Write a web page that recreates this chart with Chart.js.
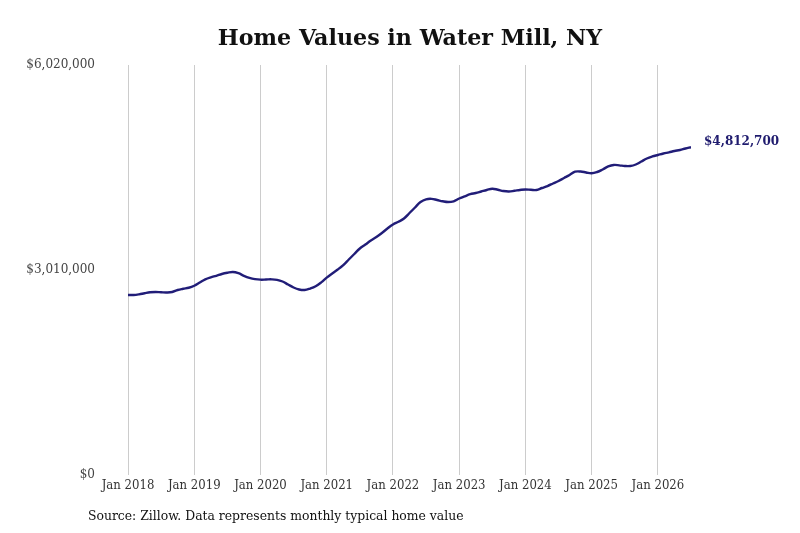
<!DOCTYPE html>
<html>
<head>
<meta charset="utf-8">
<script src="https://cdn.jsdelivr.net/npm/chart.js@4.4.1/dist/chart.umd.min.js"></script>
<style>
  html, body { margin: 0; padding: 0; background: #ffffff; }
  #wrap { width: 800px; height: 533px; position: relative; }
</style>
</head>
<body>
<div id="wrap"><canvas id="c"></canvas></div>
<script>
// ---- data ----
const chartTitle = "Home Values in Water Mill, NY";
const sourceNote = "Source: Zillow. Data represents monthly typical home value";
const startYear = 2018;
// monthly typical home value, Jan 2018 .. Jul 2026
const homeValues = [
  2643000, 2643000, 2653000, 2669000, 2683000, 2687000, 2683000, 2680000, 2687000, 2716000, 2734000, 2749000,
  2779000, 2826000, 2873000, 2903000, 2925000, 2951000, 2969000, 2981000, 2963000, 2925000, 2895000, 2876000,
  2868000, 2870000, 2873000, 2866000, 2841000, 2797000, 2753000, 2724000, 2716000, 2738000, 2772000, 2828000,
  2898000, 2959000, 3017000, 3083000, 3164000, 3245000, 3326000, 3384000, 3443000, 3494000, 3553000, 3619000,
  3678000, 3719000, 3766000, 3847000, 3928000, 4008000, 4048000, 4055000, 4038000, 4019000, 4008000, 4019000,
  4060000, 4092000, 4123000, 4141000, 4163000, 4185000, 4204000, 4189000, 4170000, 4163000, 4173000, 4185000,
  4193000, 4188000, 4185000, 4214000, 4243000, 4280000, 4317000, 4361000, 4405000, 4453000, 4456000, 4442000,
  4430000, 4449000, 4486000, 4530000, 4552000, 4547000, 4537000, 4537000, 4559000, 4603000, 4647000, 4677000,
  4699000, 4721000, 4738000, 4757000, 4772000, 4794000, 4812700
];
const xTickYears = [2018, 2019, 2020, 2021, 2022, 2023, 2024, 2025, 2026];
const yTickValues = [0, 3010000, 6020000];
const endLabel = "$4,812,700";

// ---- build ----
const points = homeValues.map((v, i) => ({ x: i, y: v }));
const fmt = v => "$" + v.toLocaleString("en-US");

const textPlugin = {
  id: "texts",
  afterDraw(chart) {
    const ctx = chart.ctx;
    ctx.save();
    ctx.fillStyle = "#111111";
    ctx.font = "bold 22.2px 'DejaVu Serif'";
    ctx.textAlign = "center";
    ctx.textBaseline = "middle";
    ctx.fillText(chartTitle, 410, 39);

    ctx.font = "12.4px 'DejaVu Serif'";
    ctx.textAlign = "left";
    ctx.fillStyle = "#111111";
    ctx.fillText(sourceNote, 88, 517);

    const meta = chart.getDatasetMeta(0);
    const last = meta.data[meta.data.length - 1];
    ctx.font = "bold 12px 'DejaVu Serif'";
    ctx.fillStyle = "#1f1b6e";
    ctx.textAlign = "left";
    ctx.fillText(endLabel, last.x + 13, last.y - 5);
    ctx.restore();
  }
};

new Chart(document.getElementById("c"), {
  type: "line",
  data: {
    datasets: [{
      data: points,
      borderColor: "#211d78",
      borderWidth: 2.4,
      pointRadius: 0,
      tension: 0.4,
      fill: false
    }]
  },
  options: {
    responsive: true,
    maintainAspectRatio: false,
    animation: false,
    layout: { padding: { top: 65, right: 109, bottom: 38, left: 0 } },
    plugins: {
      legend: { display: false },
      title: { display: false },
      tooltip: { enabled: false }
    },
    scales: {
      x: {
        type: "linear",
        min: 0,
        max: homeValues.length - 1,
        afterBuildTicks(scale) {
          scale.ticks = xTickYears.map(y => ({ value: (y - startYear) * 12 }));
        },
        afterFit(scale) { scale.height = 20; },
        ticks: {
          padding: 3,
          maxRotation: 0,
          autoSkip: false,
          color: "#333333",
          font: { family: "'DejaVu Serif Condensed', 'DejaVu Serif'", size: 13 },
          callback: v => "Jan " + (startYear + Math.round(v / 12))
        },
        grid: { display: true, color: "#cccccc", lineWidth: 1, drawTicks: false },
        border: { display: false }
      },
      y: {
        min: 0,
        max: 6020000,
        afterBuildTicks(scale) {
          scale.ticks = yTickValues.map(v => ({ value: v }));
        },
        afterFit(scale) { scale.width = 128; },
        ticks: {
          padding: 33,
          color: "#444444",
          font: { family: "'DejaVu Serif'", size: 12 },
          callback: v => fmt(v)
        },
        grid: { display: false, drawTicks: false },
        border: { display: false }
      }
    }
  },
  plugins: [textPlugin]
});
</script>
</body>
</html>
